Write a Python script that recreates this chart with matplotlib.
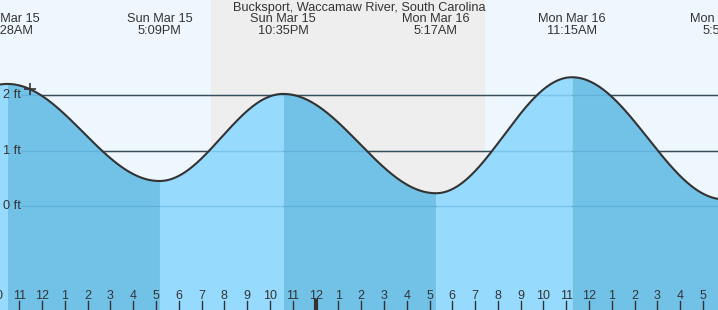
#tide chart for Bucksport, Waccamaw River
import numpy as np
import matplotlib.pyplot as plt

# high / low tides, hours counted from Sun Mar 15 00:00
event_hours = [4.17, 10.47, 17.15, 22.58, 29.28, 35.25, 41.92]
event_heights = [0.45, 2.20, 0.45, 2.02, 0.23, 2.32, 0.12]
event_dates = ["Sun Mar 15", "Sun Mar 15", "Sun Mar 15", "Sun Mar 15", "Mon Mar 16", "Mon Mar 16", "Mon Mar 16"]
event_times = ["4:10AM", "10:28AM", "5:09PM", "10:35PM", "5:17AM", "11:15AM", "5:55PM"]

sunset = 19.43
sunrise = 31.42
now_hour = 11.47
ft_levels = [0, 1, 2]
x_start, x_end = 10.153, 41.657

# cosine curve between each pair of high/low tides
t = []
h = []
for i in range(len(event_hours) - 1):
    t1, t2 = event_hours[i], event_hours[i + 1]
    h1, h2 = event_heights[i], event_heights[i + 1]
    tt = np.linspace(t1, t2, 120)
    t.append(tt)
    h.append(h1 + (h2 - h1) * (1 - np.cos(np.pi * (tt - t1) / (t2 - t1))) / 2)
t = np.concatenate(t)
h = np.concatenate(h)

plt.rcParams['font.family'] = ['Liberation Sans', 'DejaVu Sans']
fig = plt.figure(figsize=(7.18, 3.10), dpi=100)
ax = fig.add_axes([0, 0, 1, 1])
ax.set_xlim(x_start, x_end)
ax.set_ylim(-1.874, 3.712)
ax.set_facecolor("#EEF6FE")
ax.axvspan(sunset, sunrise, color="#EEEEEE", lw=0, zorder=0)

for lev in ft_levels:
    ax.axhline(lev, xmin=22 / 718, color="#333333", lw=1, zorder=1)

# rising = light, falling = dark
bottom = -1.874
for i in range(len(event_hours) - 1):
    m = (t >= event_hours[i]) & (t <= event_hours[i + 1])
    rising = event_heights[i + 1] > event_heights[i]
    ax.fill_between(t[m], h[m], bottom, color="#96DBFE" if rising else "#72C2E7", lw=0, zorder=2)

for lev in ft_levels:
    ax.axhline(lev, xmin=22 / 718, color="#3C8FC0", lw=1, alpha=0.3, zorder=3)

ax.plot(t, h, color="#333333", lw=1.5, zorder=4)
ax.plot(now_hour, np.interp(now_hour, t, h), marker="+", ms=9, mew=1.2, color="#333333", zorder=5)

tc = "#333333"
# feet labels
ytrans = ax.get_yaxis_transform()
for lev in ft_levels:
    ax.text(3 / 718, lev, f"{lev} ft", transform=ax.get_yaxis_transform(), fontsize=9.2,
            color=tc, ha="left", va="center", zorder=6)

# hour ticks along the bottom
xtrans = ax.get_xaxis_transform()
for hr in range(10, 42):
    lab = str((hr - 1) % 12 + 1)
    ax.text(hr, 1 - 296 / 310, lab, transform=xtrans, fontsize=9, color=tc,
            ha="center", va="center", zorder=6, clip_on=False)
    ax.plot([hr, hr], [0, 9 / 310], transform=xtrans, color=tc,
            lw=3 if hr == 24 else 1, zorder=6, clip_on=False)

# high / low labels at the top
for eh, d, tm in zip(event_hours, event_dates, event_times):
    ax.text(eh, 1 - 19.5 / 310, d, transform=xtrans, fontsize=9.2, color=tc, ha="center", va="center")
    ax.text(eh, 1 - 31.5 / 310, tm, transform=xtrans, fontsize=9.2, color=tc, ha="center", va="center")

ax.text(0.5, 1 - 8 / 310, "Bucksport, Waccamaw River, South Carolina", transform=ax.transAxes,
        fontsize=9.2, color=tc, ha="center", va="center")

ax.set_xticks([])
ax.set_yticks([])
for s in ax.spines.values():
    s.set_visible(False)

plt.savefig("out.png", dpi=100)
